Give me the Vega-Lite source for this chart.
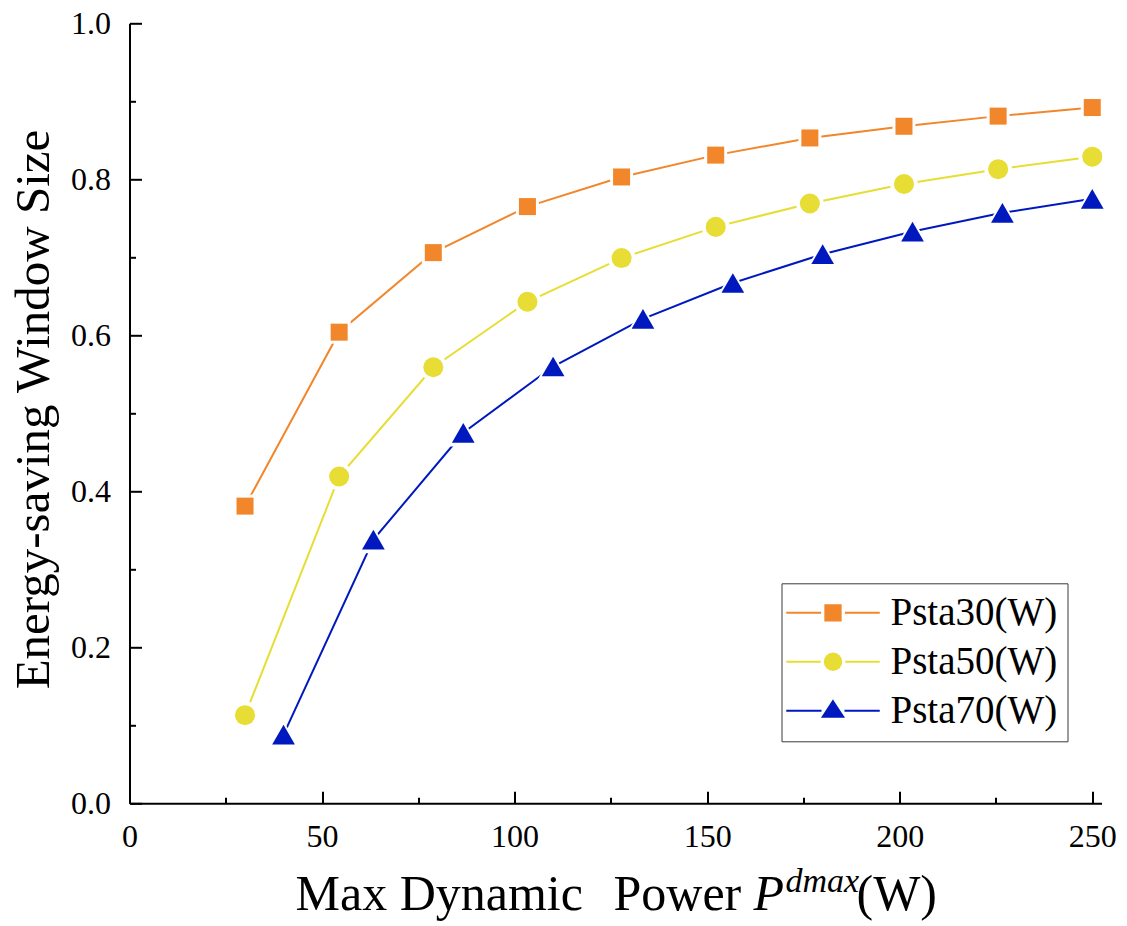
{
  "$schema": "https://vega.github.io/schema/vega-lite/v6.json",
  "width": 972,
  "height": 780,
  "autosize": {"type": "none"},
  "padding": {"left": 129.5, "top": 23.3, "right": 25.5, "bottom": 122.7},
  "background": "white",
  "config": {
    "view": {"stroke": null},
    "font": "Liberation Serif",
    "axis": {
      "grid": false,
      "domainColor": "black",
      "domainWidth": 2,
      "tickColor": "black",
      "tickWidth": 2,
      "labelFont": "Liberation Serif",
      "labelFontSize": 32,
      "labelColor": "black",
      "labelFlush": false,
      "labelOverlap": false,
      "titleFont": "Liberation Serif",
      "titleFontSize": 50,
      "titleFontWeight": "normal",
      "titleColor": "black"
    },
    "legend": {
      "orient": "none",
      "legendX": 652,
      "legendY": 560,
      "strokeColor": "#3a3a3a",
      "padding": 10,
      "labelFont": "Liberation Serif",
      "labelFontSize": 39,
      "labelColor": "black",
      "labelLimit": 400,
      "symbolSize": 289,
      "symbolStrokeWidth": 2,
      "symbolOpacity": 1,
      "symbolOffset": 22,
      "labelOffset": 38,
      "rowPadding": 9
    }
  },
  "data": {
    "values": [
      {"series": "Psta30(W)", "power": 30, "size": 0.381},
      {"series": "Psta30(W)", "power": 54.44, "size": 0.604},
      {"series": "Psta30(W)", "power": 78.89, "size": 0.706},
      {"series": "Psta30(W)", "power": 103.33, "size": 0.765},
      {"series": "Psta30(W)", "power": 127.78, "size": 0.803},
      {"series": "Psta30(W)", "power": 152.22, "size": 0.831},
      {"series": "Psta30(W)", "power": 176.67, "size": 0.853},
      {"series": "Psta30(W)", "power": 201.11, "size": 0.868},
      {"series": "Psta30(W)", "power": 225.56, "size": 0.881},
      {"series": "Psta30(W)", "power": 250, "size": 0.892},
      {"series": "Psta50(W)", "power": 30, "size": 0.113},
      {"series": "Psta50(W)", "power": 54.44, "size": 0.419},
      {"series": "Psta50(W)", "power": 78.89, "size": 0.559},
      {"series": "Psta50(W)", "power": 103.33, "size": 0.643},
      {"series": "Psta50(W)", "power": 127.78, "size": 0.699},
      {"series": "Psta50(W)", "power": 152.22, "size": 0.739},
      {"series": "Psta50(W)", "power": 176.67, "size": 0.769},
      {"series": "Psta50(W)", "power": 201.11, "size": 0.794},
      {"series": "Psta50(W)", "power": 225.56, "size": 0.813},
      {"series": "Psta50(W)", "power": 250, "size": 0.829},
      {"series": "Psta70(W)", "power": 40, "size": 0.088},
      {"series": "Psta70(W)", "power": 63.33, "size": 0.338},
      {"series": "Psta70(W)", "power": 86.67, "size": 0.475},
      {"series": "Psta70(W)", "power": 110, "size": 0.56},
      {"series": "Psta70(W)", "power": 133.33, "size": 0.621},
      {"series": "Psta70(W)", "power": 156.67, "size": 0.667},
      {"series": "Psta70(W)", "power": 180, "size": 0.704},
      {"series": "Psta70(W)", "power": 203.33, "size": 0.733},
      {"series": "Psta70(W)", "power": 226.67, "size": 0.757},
      {"series": "Psta70(W)", "power": 250, "size": 0.775}
    ]
  },
  "layer": [
    {
      "mark": {"type": "line", "strokeWidth": 2},
      "encoding": {
        "x": {
          "field": "power",
          "type": "quantitative",
          "scale": {"domain": [0, 252.4], "nice": false, "zero": false},
          "axis": {
            "orient": "bottom",
            "title": "Max Dynamic",
            "titleX": 165.5,
            "titleY": 105.8,
            "titleAlign": "left",
            "titleBaseline": "alphabetic",
            "values": [0, 25, 50, 75, 100, 125, 150, 175, 200, 225, 250],
            "labelExpr": "datum.value % 50 === 0 ? datum.label : ''",
            "format": "d",
            "labelFont": "Liberation Serif",
            "labelFontSize": 32,
            "tickSize": {"condition": {"test": "datum.value % 50 !== 0", "value": -6}, "value": -12},
            "labelPadding": 30
          }
        },
        "y": {
          "field": "size",
          "type": "quantitative",
          "scale": {"domain": [0, 1], "nice": false},
          "axis": {
            "orient": "left",
            "title": "Energy-saving Window Size",
            "titleFontSize": 49,
            "titleX": -81.5,
            "titleY": 385.7,
            "titleAngle": -90,
            "titleAlign": "center",
            "titleBaseline": "alphabetic",
            "values": [0, 0.1, 0.2, 0.3, 0.4, 0.5, 0.6, 0.7, 0.8, 0.9, 1],
            "labelExpr": "round(datum.value * 10) % 2 === 0 ? format(datum.value, '.1f') : ''",
            "labelFont": "Liberation Serif",
            "labelFontSize": 32,
            "tickSize": {"condition": {"test": "round(datum.value * 10) % 2 === 1", "value": -6}, "value": -12},
            "labelPadding": 31
          }
        },
        "color": {
          "field": "series",
          "type": "nominal",
          "scale": {"domain": ["Psta30(W)", "Psta50(W)", "Psta70(W)"], "range": ["#F2862A", "#E7DD35", "#0019BE"]},
          "legend": null
        }
      }
    },
    {
      "mark": {"type": "point", "filled": true, "color": "white", "opacity": 1},
      "encoding": {
        "x": {
          "field": "power",
          "type": "quantitative",
          "axis": {
            "orient": "bottom",
            "domain": false,
            "ticks": false,
            "labels": false,
            "title": "P",
            "titleFontStyle": "italic",
            "titleX": 623.5,
            "titleY": 105.8,
            "titleAlign": "left",
            "titleBaseline": "alphabetic"
          }
        },
        "y": {
          "field": "size",
          "type": "quantitative",
          "axis": {
            "orient": "left",
            "domain": false,
            "ticks": false,
            "labels": false,
            "title": "(W)",
            "titleAngle": 0,
            "titleX": 726.5,
            "titleY": 886,
            "titleAlign": "left",
            "titleBaseline": "alphabetic"
          }
        },
        "shape": {
          "field": "series",
          "type": "nominal",
          "scale": {"domain": ["Psta30(W)", "Psta50(W)", "Psta70(W)"], "range": ["square", "circle", "triangle-up"]},
          "legend": null
        },
        "size": {
          "field": "series",
          "type": "nominal",
          "scale": {"type": "point", "domain": ["Psta30(W)", "Psta50(W)", "Psta70(W)"], "range": [529, 1000], "padding": 0},
          "legend": null
        }
      }
    },
    {
      "mark": {"type": "point", "filled": true, "opacity": 1},
      "encoding": {
        "x": {
          "field": "power",
          "type": "quantitative",
          "axis": {
            "orient": "bottom",
            "domain": false,
            "ticks": false,
            "labels": false,
            "title": "dmax",
            "titleFontStyle": "italic",
            "titleFontSize": 34,
            "titleX": 655.5,
            "titleY": 87.8,
            "titleAlign": "left",
            "titleBaseline": "alphabetic"
          }
        },
        "y": {
          "field": "size",
          "type": "quantitative",
          "axis": {
            "orient": "left",
            "domain": false,
            "ticks": false,
            "labels": false,
            "title": "Power",
            "titleAngle": 0,
            "titleX": 483.5,
            "titleY": 886,
            "titleAlign": "left",
            "titleBaseline": "alphabetic"
          }
        },
        "color": {"field": "series", "type": "nominal", "legend": null},
        "shape": {
          "field": "series",
          "type": "nominal",
          "scale": {"domain": ["Psta30(W)", "Psta50(W)", "Psta70(W)"], "range": ["square", "circle", "triangle-up"]},
          "legend": null
        },
        "size": {
          "field": "series",
          "type": "nominal",
          "scale": {"type": "point", "domain": ["Psta30(W)", "Psta50(W)", "Psta70(W)"], "range": [289, 515], "padding": 0},
          "legend": null
        }
      }
    },
    {
      "transform": [{"filter": "false"}],
      "mark": {"type": "point", "filled": true, "strokeWidth": 2},
      "encoding": {
        "fill": {
          "field": "series",
          "type": "nominal",
          "scale": {"domain": ["Psta30(W)", "Psta50(W)", "Psta70(W)"], "range": ["#F2862A", "#E7DD35", "#0019BE"]},
          "legend": {"title": null}
        },
        "stroke": {
          "field": "series",
          "type": "nominal",
          "scale": {"domain": ["Psta30(W)", "Psta50(W)", "Psta70(W)"], "range": ["#F2862A", "#E7DD35", "#0019BE"]},
          "legend": {"title": null}
        },
        "shape": {
          "field": "series",
          "type": "nominal",
          "scale": {
            "domain": ["Psta30(W)", "Psta50(W)", "Psta70(W)"],
            "range": [
              "M-5.5,0H-1.4M1.4,0H5.5M-0.9,-0.9H0.9V0.9H-0.9Z",
              "M-5.5,0H-1.45M1.45,0H5.5M0.97,0A0.97,0.97,0,1,1,-0.97,0A0.97,0.97,0,1,1,0.97,0Z",
              "M-5.5,0H-1.35M1.35,0H5.5M0,-1.13L1.2,0.7L-1.2,0.7Z"
            ]
          },
          "legend": {"title": null}
        }
      }
    }
  ],
  "resolve": {
    "scale": {"size": "independent", "shape": "independent", "fill": "independent", "stroke": "independent"},
    "axis": {"x": "independent", "y": "independent"}
  }
}
